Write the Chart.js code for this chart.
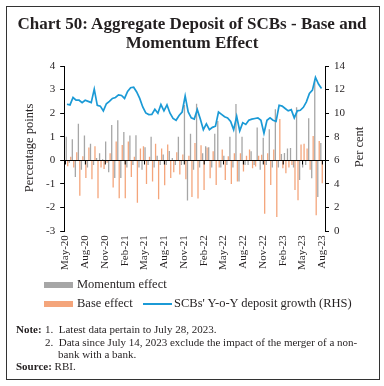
<!DOCTYPE html>
<html>
<head>
<meta charset="utf-8">
<script src="https://cdn.jsdelivr.net/npm/chart.js@4.4.0/dist/chart.umd.min.js"></script>
<style>
  body { margin: 0; background: #fff; font-family: "Liberation Serif", serif; color: #231f20; }
  #wrap { position: relative; width: 384px; height: 386px; overflow: hidden; }
  #frame { position: absolute; left: 6px; top: 6px; width: 374px; height: 374px; border: 1.5px solid #333; box-sizing: border-box; }
  canvas { position: absolute; left: 0; top: 0; }
  .title { position: absolute; left: 0; width: 384px; top: 14px; text-align: center; font-weight: bold; font-size: 17px; line-height: 19px; }
  .ytitle { position: absolute; font-size: 12.5px; white-space: nowrap; transform: translate(-50%, -50%) rotate(-90deg); }
  .legend { position: absolute; font-size: 12.5px; white-space: nowrap; }
  .box { position: absolute; width: 29px; height: 6px; }
  .note { position: absolute; font-size: 11px; line-height: 12px; white-space: nowrap; }
</style>
</head>
<body>
<div id="wrap">
  <canvas id="myChart" width="384" height="386"></canvas>
  <div id="frame"></div>
  <div class="title">Chart 50: Aggregate Deposit of SCBs - Base and<br>Momentum Effect</div>
  <div class="ytitle" style="left:29px; top:148px;">Percentage points</div>
  <div class="ytitle" style="left:359px; top:147px;">Per cent</div>

  <div class="box" style="left:44px; top:282px; background:#a6a6a6;"></div>
  <div class="legend" style="left:77px; top:277px;">Momentum effect</div>
  <div class="box" style="left:44px; top:301px; background:#f4a57b;"></div>
  <div class="legend" style="left:77px; top:296px;">Base effect</div>
  <div class="box" style="left:143px; top:303px; height:2px; background:#1b9ad6;"></div>
  <div class="legend" style="left:174px; top:296px;">SCBs' Y-o-Y deposit growth (RHS)</div>

  <div class="note" style="left:16px; top:323px;"><b>Note:</b></div>
  <div class="note" style="left:45px; top:323px;">1.&nbsp; Latest data pertain to July 28, 2023.</div>
  <div class="note" style="left:45px; top:336px;">2.&nbsp; Data since July 14, 2023 exclude the impact of the merger of a non-</div>
  <div class="note" style="left:58px; top:348px;">bank with a bank.</div>
  <div class="note" style="left:16px; top:360px;"><b>Source:</b> RBI.</div>
</div>
<script>
// fortnightly data, first reporting Friday and count
const firstDate = "2020-05-08";
const tickLabels = ["May-20", "Aug-20", "Nov-20", "Feb-21", "May-21", "Aug-21", "Nov-21",
  "Feb-22", "May-22", "Aug-22", "Nov-22", "Feb-23", "May-23", "Aug-23"];

// percentage points (LHS)
const momentum = [
  1.0, -0.1, 0.9, -0.7, 1.55, -0.4, 1.05, -0.3, 0.7, -0.2,
  0.1, 0.3, 0.05, 0.8, -0.5, 1.5, -0.75, 1.7, -0.75, 1.2,
  -0.3, 1.05, -0.2, 1.07, -0.3, -0.4, 0.56, -0.2, 1.0, -0.3,
  0.2, -0.2, 0.25, -0.2, 0.4, 0.1, -0.2, 1.0, -0.2, 2.35,
  -1.7, 1.13, -0.4, 2.4, -0.3, 0.3, 0.6, 0.56, -0.3, 1.13,
  1.67, -0.3, 0.2, -0.2, 1.0, -0.3, 2.39, -0.9, 1.0, -0.2,
  -0.2, 0.39, -0.2, 1.39, -0.4, 0.96, -0.2, 1.32, -0.3, 2.17,
  -0.3, 0.27, 0.31, 0.5, 0.53, -0.3, 2.25, -0.83, -0.3, -0.2,
  1.79, -0.76, 3.39, -1.55, 0.74
];
const base = [
  -0.25, 0.15, -0.3, 0.35, -1.5, 0.17, -0.75, 0.55, -0.8, 0.6,
  -1.6, -0.3, -0.37, -0.1, 0.3, -1.15, 0.8, -1.6, 0.65, -1.6,
  0.8, -0.7, 0.15, -1.8, 0.5, 0.6, -1.0, 0.15, -0.9, 0.7,
  -1.65, 0.5, -1.05, 0.67, -0.75, -0.5, 0.34, -0.6, 0.25, -0.8,
  0.2, -1.55, 0.74, -1.62, 0.64, -1.26, 0.55, -0.76, 0.39, -1.04,
  -0.3, 0.46, -0.83, 0.17, -1.0, 0.3, -0.9, 0.3, -0.47, 0.2,
  0.46, -0.33, -0.26, 0.2, 0.24, -2.26, 0.3, -1.04, 0.46, -2.4,
  1.75, -0.33, -0.54, -0.3, -0.2, -1.26, -1.69, 0.67, 0.7, 0.5,
  -0.4, 1.03, -2.33, 0.82, -0.97
];
// per cent (RHS)
const growth = [
  10.76, 10.7, 11.33, 11.1, 11.1, 10.9, 11.1, 11.0, 10.9, 12.04,
  10.67, 10.6, 10.19, 10.8, 11.0, 11.25, 11.33, 11.55, 11.5, 11.25,
  11.85, 12.16, 12.2, 11.8, 11.25, 10.53, 10.02, 9.88, 9.9, 10.33,
  10.0, 10.73, 10.2, 10.7, 10.0, 9.55, 9.4, 9.8, 10.1, 11.45,
  10.1, 9.6, 9.5, 10.3, 9.5, 8.6, 9.1, 8.6, 8.8, 8.9,
  10.1, 9.9, 9.7, 9.6, 9.3, 8.6, 9.74, 8.5, 9.2, 9.05,
  9.4, 9.5, 9.55, 9.6, 9.4, 8.3, 9.4, 9.6, 9.4, 9.3,
  10.67, 10.6, 10.4, 10.2, 10.3, 9.6, 10.2, 10.25, 10.5, 10.96,
  11.67, 11.95, 13.04, 12.47, 12.1
];

// x axis in days from 1 May 2020
const DAY = 864e5;
const origin = Date.UTC(2020, 4, 1);
const months = ["Jan","Feb","Mar","Apr","May","Jun","Jul","Aug","Sep","Oct","Nov","Dec"];
const tickDays = tickLabels.map(l => {
  const [m, y] = l.split("-");
  return (Date.UTC(2000 + +y, months.indexOf(m), 1) - origin) / DAY;
});
const firstDay = (Date.parse(firstDate) - origin) / DAY;
const xs = growth.map((v, i) => firstDay + 14 * i);

const font = { family: "'Liberation Serif', serif", size: 11 };

// zero line with the quarter tick marks, drawn through the plot
const zeroAxis = {
  id: "zeroAxis",
  afterDatasetsDraw(chart) {
    const { ctx, chartArea, scales } = chart;
    const y0 = Math.round(scales.y.getPixelForValue(0)) + 0.5;
    ctx.save();
    ctx.strokeStyle = "#000";
    ctx.lineWidth = 1;
    ctx.beginPath();
    ctx.moveTo(chartArea.left, y0);
    ctx.lineTo(chartArea.right, y0);
    tickDays.forEach(d => {
      const x = scales.x.getPixelForValue(d);
      ctx.moveTo(x, y0);
      ctx.lineTo(x, y0 + 4);
    });
    ctx.stroke();
    ctx.restore();
  }
};

const ctx = document.getElementById("myChart");
new Chart(ctx, {
  type: "bar",
  data: {
    datasets: [
      {
        type: "line",
        label: "SCBs' Y-o-Y deposit growth (RHS)",
        data: growth.map((v, i) => ({ x: xs[i], y: v })),
        yAxisID: "y1",
        borderColor: "#1b9ad6",
        borderWidth: 1.7,
        pointRadius: 0,
        tension: 0,
        order: 0,
      },
      {
        label: "Momentum effect",
        data: momentum.map((v, i) => ({ x: xs[i], y: v })),
        backgroundColor: "#a6a6a6",
        yAxisID: "y",
        categoryPercentage: 0.95,
        barPercentage: 0.9,
        order: 1,
      },
      {
        label: "Base effect",
        data: base.map((v, i) => ({ x: xs[i], y: v })),
        backgroundColor: "#f4a57b",
        yAxisID: "y",
        categoryPercentage: 0.95,
        barPercentage: 0.9,
        order: 1,
      },
    ],
  },
  options: {
    responsive: false,
    animation: false,
    layout: { padding: { left: 41, right: 34, top: 66, bottom: 112 } },
    plugins: { legend: { display: false }, tooltip: { enabled: false } },
    scales: {
      x: {
        type: "linear",
        min: -6,
        max: 1199,
        offset: false,
        afterBuildTicks: (axis) => { axis.ticks = tickDays.map(v => ({ value: v })); },
        ticks: {
          autoSkip: false,
          minRotation: 90,
          maxRotation: 90,
          padding: 4,
          color: "#231f20",
          font: font,
          callback: (value, index) => tickLabels[index],
        },
        grid: { display: false, drawTicks: false },
        border: { display: false },
      },
      y: {
        position: "left",
        min: -3,
        max: 4,
        ticks: { stepSize: 1, padding: 5, color: "#231f20", font: font },
        grid: { drawOnChartArea: false, tickLength: 4, color: "#000" },
        border: { display: true, color: "#000", width: 1 },
      },
      y1: {
        position: "right",
        min: 0,
        max: 14,
        ticks: { stepSize: 2, padding: 5, color: "#231f20", font: font },
        grid: { drawOnChartArea: false, tickLength: 4, color: "#000" },
        border: { display: true, color: "#000", width: 1 },
      },
    },
  },
  plugins: [zeroAxis],
});
</script>
</body>
</html>
